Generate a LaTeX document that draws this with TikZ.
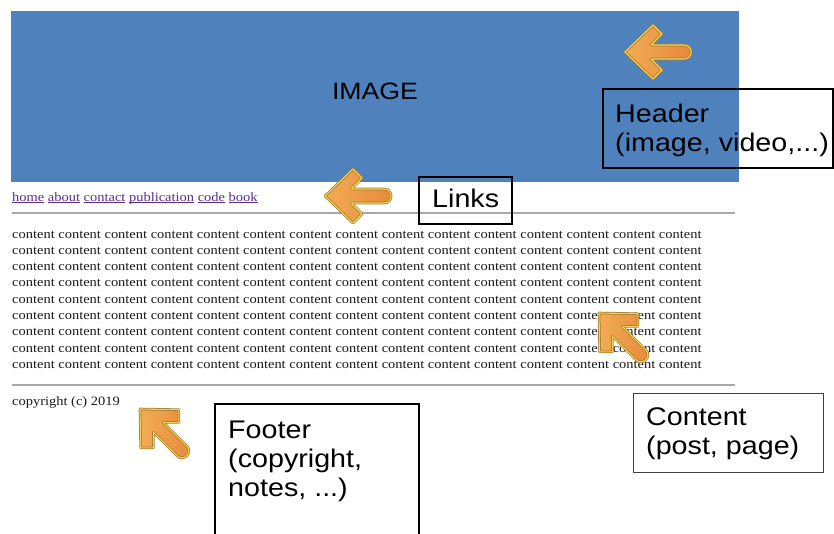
\documentclass[tikz,border=0pt]{standalone}
\usepackage{fontspec}
\setmainfont{Liberation Serif}[FakeStretch=1.13]
\newfontfamily\lsans{Liberation Sans}[FakeStretch=1.125]
\definecolor{blueimg}{HTML}{4F81BD}
\definecolor{sepgray}{HTML}{A8A8A8}
\definecolor{linkpurple}{HTML}{5A2D8C}
\definecolor{arrowlight}{HTML}{F3AC55}
\definecolor{arrowdeep}{HTML}{E6883A}
\definecolor{arrowedge}{HTML}{A07A2C}
\definecolor{arrowyellow}{HTML}{F6D35A}
\newcommand\lnk[1]{\setbox0\hbox{#1}\rlap{\rule[-1.9pt]{\wd0}{0.9pt}}\box0\relax}
\newcommand\cwords{content content content content content content content content content content content content content content content}
\newcommand\arrowshape{(0,0) -- (28,-27) -- (37,-18) -- (26,-7) -- (59,-7) .. controls (68.5,-7) and (68.5,7) .. (59,7) -- (26,7) -- (37,18) -- (28,27) -- cycle}
\tikzset{
  pagetext/.style={font=\fontsize{12.8}{16}\selectfont, inner sep=0pt, anchor=base west, text=black!90},
  labeltext/.style={font=\lsans\fontsize{25.5}{29}\selectfont, inner sep=0pt, anchor=base west, text=black},
  labelbox/.style={draw=black, line width=2pt, inner sep=0pt, anchor=north west},
  sepline/.style={draw=sepgray, line width=1.3pt},
  orangearrow/.pic={
    \path[left color=arrowlight, right color=arrowdeep, draw=arrowedge, line width=2.6pt, line join=round] \arrowshape;
    \draw[arrowyellow, line width=1.1pt, line join=round] \arrowshape;
  }
}
\begin{document}
\begin{tikzpicture}[x=1pt,y=-1pt]
\useasboundingbox[fill=white] (0,0) rectangle (834,533);
% header image
\node[fill=blueimg, inner sep=0pt, minimum width=728.5pt, minimum height=171pt, anchor=north west] (img) at (10.5,11) {};
\node[font=\lsans\fontsize{23.7}{28}\selectfont, inner sep=0pt, anchor=base] (imgtext) at (375,99) {IMAGE};
% links
\node[pagetext, text=linkpurple] (links) at (12,201) {\lnk{home} \lnk{about} \lnk{contact} \lnk{publication} \lnk{code} \lnk{book}};
\coordinate (s1a) at (12,213);
\coordinate (s1b) at (735,213);
\draw[sepline] (s1a) -- (s1b);
% content
\foreach \i in {0,...,8}{
  \node[pagetext] (c\i) at ({12},{238+16.33*\i}) {\cwords};
}
\coordinate (s2a) at (12,385);
\coordinate (s2b) at (735,385);
\draw[sepline] (s2a) -- (s2b);
% footer
\node[pagetext] (copy) at (12,405) {copyright (c) 2019};
% label boxes
\node[labelbox, minimum width=230pt, minimum height=79pt] (hbox) at (602,88) {};
\node[labeltext] (h1) at (615,122) {Header};
\node[labeltext] (h2) at (615,151) {(image, video,...)};
\node[labelbox, minimum width=93pt, minimum height=47pt] (lbox) at (418,176) {};
\node[labeltext] (l1) at (432,207) {Links};
\node[labelbox, minimum width=204pt, minimum height=140pt] (fbox) at (214,403) {};
\node[labeltext] (f1) at (228,438) {Footer};
\node[labeltext] (f2) at (228,467) {(copyright,};
\node[labeltext] (f3) at (228,496) {notes, ...)};
\node[labelbox, draw=black!75, line width=1.2pt, minimum width=190pt, minimum height=79pt] (cbox) at (633,393) {};
\node[labeltext] (cl1) at (646,425) {Content};
\node[labeltext] (cl2) at (646,454) {(post, page)};
% arrows
\pic (harrow) at (625,52) {orangearrow};
\pic (larrow) at (325,196) {orangearrow};
\pic[rotate=-45] (carrow) at (599,313) {orangearrow};
\pic[rotate=-45] (farrow) at (140,409) {orangearrow};
\end{tikzpicture}
\end{document}
